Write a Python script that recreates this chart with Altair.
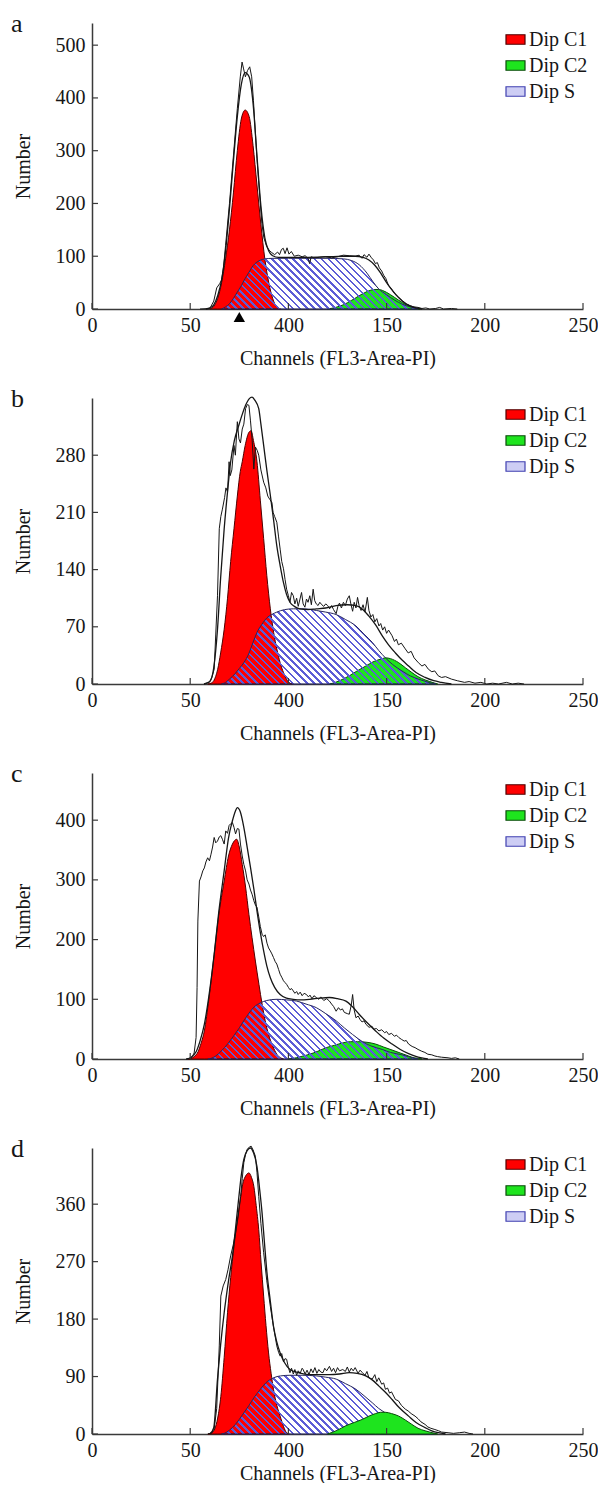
import math
import altair as alt
import pandas as pd

FONT = "Liberation Serif"
X_TICKS = [0, 50, 100, 150, 200, 250]
X_TICK_LABELS = ["0", "50", "400", "150", "200", "250"]
X_TITLE = "Channels (FL3-Area-PI)"
Y_TITLE = "Number"
LETTERS = ["a", "b", "c", "d"]
Y_MAX = [542, 350, 479, 448]
Y_TICKS = [
    [0, 100, 200, 300, 400, 500],
    [0, 70, 140, 210, 280],
    [0, 100, 200, 300, 400],
    [0, 90, 180, 270, 360],
]
LEGEND_ITEMS = ["Dip C1", "Dip C2", "Dip S"]
FILL_COLORS = ["#ff0000", "#1ee41e", "#cdcdf4"]
EDGE_COLORS = ["#500000", "#0a4a0a", "#4040b0"]
MARKER_A = [75]

# ---------------- panel a ----------------
A_RAW = [(55,0),(60,1),(62,15),(63.5,40),(65,48),(66,55),(67,80),(68,120),(70,200),(72,290),(74,380),
         (75.5,440),(76.4,468),(77.2,455),(78.1,440),(79.2,452),(80.3,459),(81.3,440),(82.2,395),(83.1,339),
         (84,285),(84.8,244),(85.7,200),(86.5,162),(87.5,135),(89,118),(90.5,110),(91.5,107),(93,103),
         (94.5,108),(95.5,103),(96.5,113),(97.4,115),(98.3,105),(99.3,116),(100.3,104),(101.5,109),(103,100),
         (105,102),(107,99),(108.5,101),(110,96),(110.8,86),(111.6,99),(113,97),(116,98),(119,99),(122,97),
         (125,99),(128,102),(131,101),(134,100),(136,102),(137.5,96),(138.5,103),(140,98),(141,104),
         (142.3,97),(143.3,93),(144.3,86),(145.3,88),(146.3,78),(147.5,72),(148.5,64),(149.6,58),(150.9,45),
         (152.5,38),(154,30),(155.9,23),(158,16),(160,10),(162,6),(164,4),(166,3),(168,1),(170,2),(172,0),
         (175,1),(177,3),(179,0),(183,1),(186,0)]
A_MODEL = [(58,0),(60,2),(62,8),(64,25),(66,55),(68,110),(70,190),(72,280),(74,365),(76,425),(78,448),
           (80,440),(82,390),(84,290),(86,195),(88,135),(90,110),(92,101),(95,98),(100,98),(110,98),(120,99),
           (128,100),(134,100),(138,98),(141,93),(144,83),(147,68),(150,50),(153,35),(156,22),(159,12),
           (162,6),(165,2),(168,0)]
A_C1 = [(60,0),(62,5),(64,20),(66,50),(68,95),(70,150),(72,220),(74,300),(76,360),(78,377),(80,365),
        (82,310),(84,235),(86,160),(88,95),(90,50),(92,20),(94,4),(96,0)]
A_S = [(66,0),(68,4),(70,10),(72,20),(74,32),(76,44),(78,58),(80,70),(82,82),(84,89),(86,93),(88,95),
       (92,96),(100,96),(110,96),(120,96),(128,95),(132,92),(136,84),(140,68),(143,52),(146,38),(150,27),
       (154,17),(158,9),(162,4),(166,0)]
A_C2 = [(120,0),(124,3),(128,8),(132,16),(136,25),(140,33),(144,37),(146,37),(148,35),(152,27),(156,17),
        (160,8),(164,2),(167,0)]

# ---------------- panel b ----------------
B_RAW = [(57,0),(59.7,2),(61,8),(62.2,18),(63,60),(63.9,108),(64.8,190),(65.6,205),(66.4,214),(67.5,228),
         (68.2,240),(69,235),(69.8,272),(70.4,255),(71.2,262),(72.3,292),(73,280),(74,321),(74.8,300),
         (75.6,295),(76.5,312),(77.3,318),(78.2,337),(79.1,342),(79.9,341),(80.7,322),(81.5,300),(82.4,263),
         (83.2,290),(84.1,286),(84.9,280),(86,262),(87.4,247),(88.5,240),(89.5,230),(90.5,226),(91.6,222),
         (92.2,210),(93,205),(94.1,198),(95,180),(95.8,165),(96.6,150),(97.5,141),(98.3,128),(99.1,116),
         (100,108),(100.8,100),(101.6,112),(102.5,108),(103.3,98),(104.2,105),(105,95),(105.9,104),
         (106.7,112),(107.5,98),(108.4,94),(109.2,104),(110,100),(110.9,108),(111.7,97),(112.6,116),
         (113.4,102),(114.2,98),(115.1,96),(116,100),(117,97),(118,95),(119,98),(120,96),(121,92),(122,96),
         (123,91),(124.3,86),(125.2,95),(126,99),(127,93),(128,100),(129,96),(130,104),(131,108),(131.8,98),
         (132.7,89),(133.5,100),(134.4,93),(135.2,106),(136,96),(137,90),(138,97),(139,88),(140.2,106),
         (141,90),(142,82),(143,85),(144,76),(145,80),(146.1,71),(147,74),(148,66),(149,70),(150,62),(151,66),
         (152.8,59),(154,52),(155,55),(156,48),(157.5,50),(159.5,43),(161,38),(162.5,40),(164,32),(166.2,26),
         (168,22),(169.5,24),(171.3,18),(173,15),(174.5,16),(176.3,10),(178,8),(180,9),(183,6),(186,4),
         (189.7,2),(192,3),(195,1),(198,2),(201,0),(204,1),(207,0),(211,2),(214,0),(217,1),(220,0)]
B_MODEL = [(57,0),(60,3),(62,20),(63.9,67),(65.5,130),(67.3,190),(69,235),(70.6,272),(72.5,298),(74.8,317),
           (76.5,330),(78.2,341),(80,349),(81.5,351),(83,347),(84.9,337),(86,318),(87.4,292),(89,262),
           (90.8,231),(92.5,200),(94.1,169),(95.8,145),(97.5,124),(99,110),(100.8,100),(103,95),(105.8,92),
           (110,91),(114.2,92),(119,93),(124.3,96),(130,97),(134.4,96),(138,91),(141,83),(144.5,72),
           (147.8,59),(151,48),(154.5,38),(158,29),(161.2,22),(165,14),(169.6,8),(174,4),(178,2),(183,0)]
B_C1 = [(59,0),(60.6,1),(62,4),(64,18),(65.5,38),(67.3,67),(69,105),(70.6,150),(72.3,190),(74,230),
        (75.5,260),(76.5,272),(78,292),(79.9,308),(81,310),(82.2,298),(84,272),(85.7,225),(87.4,178),
        (89,133),(90.8,92),(92.5,63),(94.1,43),(95.8,26),(97.5,14),(99,6),(100.8,1),(102,0)]
B_S = [(66,0),(67.3,1),(70,6),(73,13),(75,19),(77.3,26),(80,38),(82,51),(84,63),(86.5,73),(89.1,81),
       (91.5,85),(94.1,88),(98,91),(102.5,92),(108,92),(114.2,90),(119,88),(124.3,85),(129,79),(134.4,71),
       (138.5,61),(142.7,51),(146,41),(149.4,32),(153,24),(157.8,16),(162,10),(166.2,6),(170,3),(172.9,1),
       (175,0)]
B_C2 = [(121,0),(122.6,1),(126,4),(131,10),(135,16),(139.4,22),(143,27),(147.8,31),(149.4,32),(152,31),
        (156.2,26),(159.5,20),(162.9,14),(166,9),(169.6,5),(172,3),(174.6,1),(176,0)]

# ---------------- panel c ----------------
C_RAW = [(48,0),(50.5,1),(52,10),(53,36),(53.5,120),(53.9,231),(54.7,298),(55.5,305),(56.4,315),(57.2,320),
         (58,330),(58.9,337),(59.8,332),(60.6,343),(61.4,355),(62.2,371),(63,362),(63.9,365),(64.8,372),
         (65.6,374),(66.4,368),(67.3,360),(68.1,382),(69,378),(69.8,391),(70.6,394),(71.5,396),(72.3,388),
         (73.1,377),(74,386),(74.8,385),(75.6,360),(76.5,340),(77.3,326),(78.2,315),(79,300),(79.9,293),
         (80.7,283),(81.6,275),(82.4,265),(83.2,258),(84,254),(84.9,238),(85.7,222),(86.6,209),(87.4,205),
         (88.2,208),(89.1,194),(89.9,186),(90.8,181),(91.6,176),(92.4,170),(93.3,163),(94.1,159),(95,150),
         (95.8,142),(96.6,137),(97.5,131),(98.3,128),(99.1,125),(100,120),(100.8,116),(101.6,118),
         (102.5,114),(103.3,110),(104.2,113),(105,108),(106,112),(107,106),(108,110),(109.2,108),(110.2,104),
         (111,107),(112,101),(113,106),(114.2,103),(115.5,100),(116.5,104),(118,98),(119.5,101),(120.9,97),
         (122,92),(123,88),(124.3,80),(125.5,86),(126.5,82),(127.5,84),(128.5,78),(130,76),(131,75),(132,90),
         (132.7,108),(133.5,82),(134.4,69),(135.5,72),(136.5,66),(137.5,62),(138.5,64),(139.5,58),
         (141.1,53),(142.5,55),(143.5,50),(144.8,51),(146.1,47),(147.5,49),(149,44),(150,46),(151.1,41),
         (152.5,43),(154,38),(155,40),(156.2,36),(157.5,33),(159,30),(160,31),(161.2,25),(163,21),
         (164.5,19),(166,16),(167.9,13),(169.5,11),(171,8),(173,7),(174.6,5),(176,4),(178,3),(181.3,2),
         (183,1),(185,2),(187,0)]
C_MODEL = [(48,0),(50,2),(53,12),(55,30),(57.2,58),(59.5,105),(62.2,175),(64.5,245),(67.3,315),(69.5,370),
           (71.5,399),(73,415),(74,421),(75.5,414),(77.3,388),(79,355),(80.7,321),(82.4,285),(84,248),
           (85.7,212),(87.4,181),(89,156),(90.8,136),(93,120),(95.8,108),(99,102),(102.5,100),(106,99),
           (110.9,100),(116,102),(120.9,103),(125,101),(129.3,97),(132.5,88),(136,75),(140,61),(144.4,47),
           (148.5,35),(152.8,25),(157,16),(161.2,9),(164.5,5),(167.9,2),(171,0)]
C_C1 = [(49,0),(50.5,1),(52,4),(54,12),(55.5,26),(57.2,47),(59.5,100),(62.2,175),(64.5,240),(67.3,298),
        (69.5,340),(71.5,360),(73.7,368),(75,355),(76.5,326),(78.2,288),(79.9,242),(81.5,203),(83.2,164),
        (85,125),(86.6,92),(88.2,64),(89.9,41),(92,22),(94.1,8),(96,2),(97.5,0)]
C_S = [(59,0),(60.6,1),(63,5),(66,14),(69,25),(72,38),(75,52),(77.3,64),(80,77),(82.5,87),(85.7,94),
       (89,98),(94.1,100),(99,99),(104.2,97),(109,92),(114.2,86),(119,76),(124.3,64),(128.5,52),(132.7,41),
       (135.5,34),(137.7,29),(142,22),(147.8,16),(152,11),(157.8,7),(161,4),(164.5,1),(166,0)]
C_C2 = [(100,0),(104,2),(107.5,5),(110.9,8),(115,13),(119.3,19),(123.5,23),(127.7,27),(131.5,29),
        (135.2,29),(140,28),(144.4,25),(148.5,20),(152.8,15),(157,10),(161.2,5),(164,2),(166.2,1),(168,0)]

# ---------------- panel d ----------------
D_RAW = [(59,0),(61,2),(62.2,8),(63.5,40),(64.8,138),(65.6,216),(66.8,232),(68.1,242),(69.3,258),(70.6,279),
         (71.9,296),(73.1,315),(74.4,340),(75.7,372),(76.5,400),(77.3,425),(78.2,438),(79,446),(80,449),
         (81,451),(82,445),(83.2,435),(84,410),(84.9,372),(86,330),(87.4,284),(89,240),(90.8,200),(92.4,168),
         (94.1,138),(95,128),(95.8,122),(96.6,126),(97.5,113),(98.3,118),(99.1,117),(100,104),(100.8,96),
         (101.6,103),(102.5,94),(103.3,101),(104.2,92),(105,99),(106,95),(107,103),(107.5,101),(108.5,94),
         (109.5,100),(110.5,93),(111.5,102),(112.5,96),(113.5,104),(114.5,95),(115.5,101),(116.5,97),
         (117.6,96),(118.5,103),(119.5,99),(120.9,106),(122,98),(123,103),(124,96),(125,104),(126,99),
         (127.7,101),(129,98),(130,105),(131,97),(132,103),(133,99),(134,104),(135.5,95),(136.5,100),
         (137.7,96),(139,92),(140,98),(141,88),(142.7,86),(144,93),(145,82),(146,88),(147.5,78),(148.5,80),
         (149.4,70),(150.5,72),(151.5,64),(152.5,66),(154.5,54),(156,52),(157.5,45),(159.5,39),(161,36),
         (162.5,32),(164.5,28),(166,24),(167.5,19),(169.6,15),(171,11),(172.5,9),(174.6,7),(176.5,5),
         (178,3),(181.3,2),(184,1),(187,2),(189.7,3),(192,1),(194,0)]
D_MODEL = [(60,0),(62,10),(63.9,86),(65.5,140),(67.3,190),(69.5,240),(71.5,279),(73,320),(74.8,372),
           (76,405),(77.3,430),(79,444),(80.7,448),(82.3,440),(84,419),(85.3,385),(86.6,346),(87.8,300),
           (89.1,252),(90.8,208),(92.4,169),(94,145),(95.8,127),(98,112),(100.8,101),(105,96),(110.9,93),
           (116,93),(120.9,93),(126,94),(131,96),(135,95),(139.4,91),(143,84),(146.1,75),(149.5,65),
           (152.8,54),(156.5,41),(161.2,28),(165,18),(169.6,10),(173,5),(176.3,2),(180,0)]
D_C1 = [(59,0),(60.6,1),(62.5,8),(64,25),(65.6,59),(67.3,120),(69,190),(70.6,245),(72.3,294),(74,335),
        (75.7,372),(77,395),(78.2,404),(79.9,409),(81.2,402),(82.4,388),(83.6,358),(84.9,320),(86.1,268),
        (87.4,216),(88.6,170),(89.9,127),(91.2,95),(92.4,70),(94.1,45),(95.8,28),(97.5,12),(99.1,2),
        (100.5,0)]
D_S = [(66,0),(67.3,1),(70,6),(73,15),(75,23),(77.3,33),(80,45),(82.5,57),(85.7,70),(88.5,80),(92.4,88),
       (96,91),(100.8,92),(107,92),(114.2,91),(119,89),(124.3,86),(129,79),(134.4,70),(138.5,60),(142.7,49),
       (146,40),(149.4,33),(153,25),(156,19),(159.5,15),(163,10),(166,6),(169.6,3),(172,1),(174,0)]
D_C2 = [(120,0),(120.9,1),(125,6),(129.3,13),(133.5,18),(137.7,23),(141,28),(144.4,32),(147,34),(149.4,34),
        (152.5,32),(156.2,28),(159.5,22),(162.9,15),(166,9),(169.6,5),(172,3),(174.6,1),(176,0)]

PANELS = [
    (A_RAW, A_MODEL, A_C1, A_C2, A_S, False),
    (B_RAW, B_MODEL, B_C1, B_C2, B_S, False),
    (C_RAW, C_MODEL, C_C1, C_C2, C_S, False),
    (D_RAW, D_MODEL, D_C1, D_C2, D_S, True),
]

PW, PH = 491, 286
INK = "#161616"
AXIS_INK = "#3a3a3a"
HATCH = "#5c5cd6"
CLEAR = "rgba(255,255,255,0)"


def frame(pts, comp=None):
    d = pd.DataFrame(pts, columns=["x", "y"])
    if comp is not None:
        d["comp"] = comp
    return d


def hatch_gradient(s_pts, ymax):
    xs = [p[0] for p in s_pts]
    ys = [p[1] for p in s_pts]
    wpx = (max(xs) - min(xs)) * PW / 250.0
    hpx = max(ys) / ymax * PH
    c = (1 / hpx + 1 / wpx) / (1 / hpx ** 2 + 1 / wpx ** 2)
    x2 = c / hpx
    y2 = 1 - c / wpx
    period = 5.0
    n = (wpx + hpx) / math.sqrt(2) / period
    stops = []
    j = 0
    while j / n < 1:
        a = min(j / n, 1.0)
        b = min((j + 0.36) / n, 1.0)
        e = min((j + 1) / n, 1.0)
        stops += [
            alt.GradientStop(color=HATCH, offset=a),
            alt.GradientStop(color=HATCH, offset=b),
            alt.GradientStop(color=CLEAR, offset=b),
            alt.GradientStop(color=CLEAR, offset=e),
        ]
        j += 1
    return alt.LinearGradient(gradient="linear", stops=stops, x1=0, y1=1, x2=x2, y2=y2)


label_expr = ("[" + ",".join("'%s'" % s for s in X_TICK_LABELS) + "][indexof(["
              + ",".join(str(v) for v in X_TICKS) + "], datum.value)]")


def legend():
    return alt.Legend(
        title=None, orient="none", legendX=413, legendY=6,
        symbolType="M-1,-0.5H1V0.5H-1Z", symbolSize=361, symbolStrokeWidth=1.2,
        symbolOpacity=1, labelFont=FONT, labelFontSize=20, labelColor=INK,
        labelOffset=3, rowPadding=5, padding=0,
    )


def panel(i):
    raw, model, c1, c2, s, green_on_top = PANELS[i]
    ymax = Y_MAX[i]
    xs = alt.Scale(domain=[0, 250], nice=False, zero=False)
    ys = alt.Scale(domain=[0, ymax], nice=False)
    color = alt.Color("comp:N", scale=alt.Scale(domain=LEGEND_ITEMS, range=FILL_COLORS), legend=legend())
    stroke = alt.Stroke("comp:N", scale=alt.Scale(domain=LEGEND_ITEMS, range=EDGE_COLORS), legend=legend())

    last = i == len(PANELS) - 1
    x_axis = alt.Axis(values=X_TICKS, labelExpr=label_expr, title=X_TITLE, ticks=False, grid=False,
                      labelPadding=6, titlePadding=3 if last else 13, labelFlush=False,
                      titleFontWeight="normal", titleFont=FONT, titleFontSize=20,
                      labelFont=FONT, labelFontSize=20)
    y_axis = alt.Axis(values=Y_TICKS[i], title=Y_TITLE, ticks=False, grid=False,
                      labelPadding=7, titlePadding=22,
                      titleFontWeight="normal", titleFont=FONT, titleFontSize=20,
                      labelFont=FONT, labelFontSize=20)

    def X(field="x:Q"):
        return alt.X(field, scale=xs, axis=x_axis)

    def Y(field="y:Q"):
        return alt.Y(field, scale=ys, axis=y_axis, stack=None)

    c1_layer = alt.Chart(frame(c1, LEGEND_ITEMS[0])).mark_area(
        interpolate="monotone", strokeWidth=1, opacity=1
    ).encode(x=X(), y=Y(), color=color, stroke=stroke)
    c2_layer = alt.Chart(frame(c2, LEGEND_ITEMS[1])).mark_area(
        interpolate="monotone", strokeWidth=1, opacity=1
    ).encode(x=X(), y=Y(), color=color, stroke=stroke)
    s_layer = alt.Chart(frame(s)).mark_area(
        interpolate="monotone", fill=hatch_gradient(s, ymax), stroke="#26265e", strokeWidth=1, opacity=1
    ).encode(x=X(), y=Y())
    raw_layer = alt.Chart(frame(raw)).mark_line(color=INK, strokeWidth=1).encode(x=X(), y=Y())
    model_layer = alt.Chart(frame(model)).mark_line(
        color=INK, strokeWidth=1.3, interpolate="monotone").encode(x=X(), y=Y())

    tick_df_x = pd.DataFrame({"v": X_TICKS, "z": [0] * len(X_TICKS)})
    xticks = alt.Chart(tick_df_x).mark_rule(color=AXIS_INK, strokeWidth=1.2, y2Offset=-6).encode(
        x=X("v:Q"), y=Y("z:Q"), y2="z:Q")
    tick_df_y = pd.DataFrame({"v": Y_TICKS[i], "z": [0] * len(Y_TICKS[i])})
    yticks = alt.Chart(tick_df_y).mark_rule(color=AXIS_INK, strokeWidth=1.2, x2Offset=6).encode(
        y=Y("v:Q"), x=X("z:Q"), x2="z:Q")

    letter = alt.Chart(pd.DataFrame({"t": [LETTERS[i]]})).mark_text(
        align="left", baseline="alphabetic", font=FONT, fontSize=26, color=INK, x=-81, y=9
    ).encode(text="t:N")

    if green_on_top:
        layers = [c1_layer, s_layer, c2_layer]
    else:
        layers = [c1_layer, c2_layer, s_layer]
    layers += [raw_layer, model_layer, xticks, yticks, letter]
    if i == 0:
        tri = alt.Chart(pd.DataFrame({"x": MARKER_A, "y": [0]})).mark_point(
            shape="triangle-up", filled=True, color="#000000", size=130, yOffset=8, opacity=1
        ).encode(x=X(), y=Y())
        layers.append(tri)
    return alt.layer(*layers).properties(width=PW, height=PH)


chart = alt.vconcat(*[panel(i) for i in range(4)], spacing=18).resolve_scale(
    x="independent", y="independent", color="independent", stroke="independent"
).resolve_legend(color="independent", stroke="independent").properties(
    padding={"left": 3, "top": 3, "right": 0, "bottom": 0}
).configure_axis(
    labelFont=FONT, labelFontSize=20, labelColor=INK, titleFont=FONT, titleFontSize=20,
    titleFontWeight="normal", titleColor=INK, domainColor=AXIS_INK, domainWidth=1.5
).configure_view(strokeWidth=0)

chart.save("out.html", embed_options={"renderer": "svg", "actions": False})
